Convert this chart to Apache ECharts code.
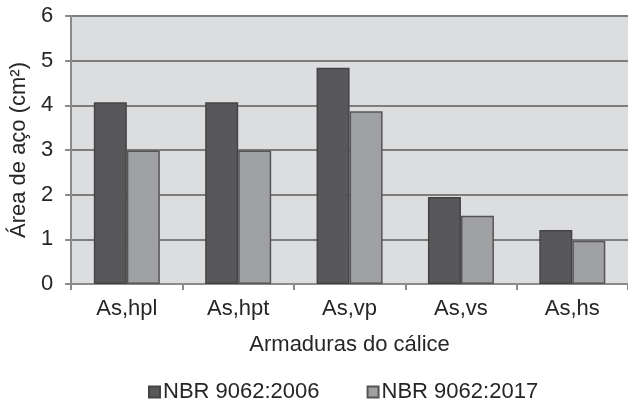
<!DOCTYPE html>
<html><head><meta charset="utf-8">
<script src="https://cdn.jsdelivr.net/npm/echarts@6/dist/echarts.min.js"></script>
<style>html,body{margin:0;padding:0;background:#fff}#c{width:628px;height:399px}</style>
</head><body><div id="c"></div>
<script>
var categories = ['As,hpl', 'As,hpt', 'As,vp', 'As,vs', 'As,hs'];
var nbr2006 = [4.07, 4.07, 4.84, 1.95, 1.21];
var nbr2017 = [2.99, 2.99, 3.87, 1.53, 0.97];
var seriesNames = ['NBR 9062:2006', 'NBR 9062:2017'];
var chart = echarts.init(document.getElementById('c'));
var font = 'Liberation Sans, Arial, sans-serif';
chart.setOption({
  animation: false,
  grid: { left: 71, right: -2, top: 16, bottom: 115, containLabel: false, show: true, backgroundColor: '#dcdddf', borderWidth: 0 },
  legend: {
    top: 376, left: 143, itemWidth: 11, itemHeight: 11, itemGap: 47,
    icon: 'rect',
    textStyle: { fontFamily: font, fontSize: 22, color: '#262626', padding: [0, 0, 0, -2] },
    data: seriesNames
  },
  xAxis: {
    type: 'category', data: categories,
    name: 'Armaduras do cálice', nameLocation: 'middle', nameGap: 50,
    nameTextStyle: { fontFamily: font, fontSize: 22, color: '#262626' },
    axisLine: { lineStyle: { color: '#8a8a8a', width: 2 } },
    axisTick: { show: true, length: 6, lineStyle: { color: '#8a8a8a', width: 2 } },
    axisLabel: { fontFamily: font, fontSize: 22, color: '#262626', margin: 14 }
  },
  yAxis: {
    type: 'value', min: 0, max: 6, interval: 1,
    name: 'Área de aço (cm²)', nameLocation: 'middle', nameGap: 39,
    nameTextStyle: { fontFamily: font, fontSize: 22, color: '#262626' },
    axisLine: { show: true, lineStyle: { color: '#8a8a8a', width: 2 } },
    axisTick: { show: true, length: 6, lineStyle: { color: '#8a8a8a', width: 2 } },
    axisLabel: { fontFamily: font, fontSize: 22, color: '#262626', margin: 18 },
    splitLine: { lineStyle: { color: '#7d7d7d', width: 2 } }
  },
  series: [
    { name: seriesNames[0], type: 'bar', data: nbr2006, barWidth: 33, barGap: '0%',
      itemStyle: { color: '#58585a', borderColor: '#444446', borderWidth: 1.5 } },
    { name: seriesNames[1], type: 'bar', data: nbr2017, barWidth: 33, barGap: '0%',
      itemStyle: { color: '#a0a1a3', borderColor: '#555557', borderWidth: 1.5 } }
  ]
});
</script></body></html>
